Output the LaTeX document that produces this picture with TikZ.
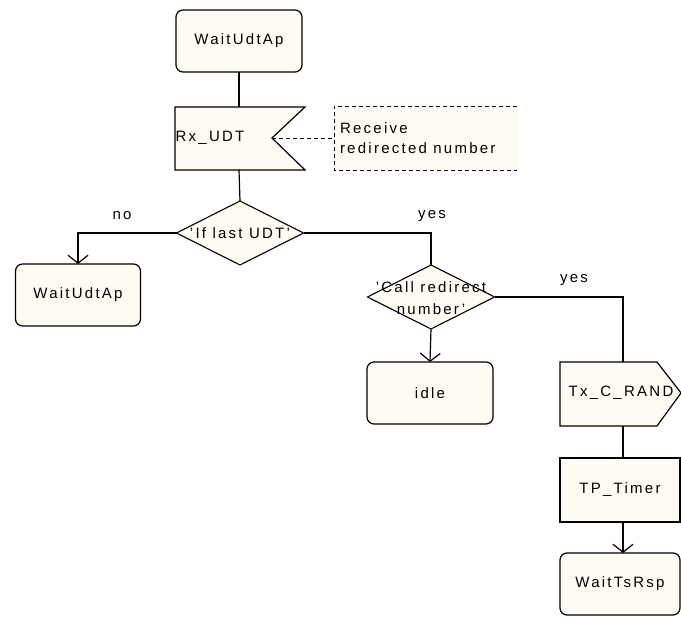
\documentclass[tikz,border=0pt]{standalone}
\usepackage{fontspec}
\setmainfont{Liberation Sans}[LetterSpace=15]
\usetikzlibrary{shapes.geometric,arrows.meta}
\definecolor{sdlfill}{RGB}{255,250,242}
\tikzset{
  every node/.style={font=\fontsize{15}{20}\selectfont, inner sep=0pt, outer sep=0pt},
  statebox/.style={draw, fill=sdlfill, line width=1.2pt, rounded corners=7pt, minimum width=#1, minimum height=62pt},
  statebox/.default=126pt,
  decisionbox/.style={draw, fill=sdlfill, line width=1.1pt, diamond, aspect=2, minimum width=127pt, minimum height=64pt, inner sep=0pt},
  plainbox/.style={draw, fill=sdlfill, line width=1.2pt, minimum width=120pt, minimum height=64pt},
  flow/.style={line width=1.2pt},
  flowarrow/.style={line width=1.2pt, -{Straight Barb[length=8pt,width=20pt]}},
  cmtline/.style={line width=0.9pt, dash pattern=on 4pt off 3pt},
  lbl/.style={font=\fontsize{15}{18}\selectfont},
}
\begin{document}
\begin{tikzpicture}[x=1pt,y=-1pt]
\useasboundingbox (0,0) rectangle (681,618);

% top state
\node[statebox] (s1) at (239,41) {WaitUdtAp};

% input signal Rx_UDT
\coordinate (rxnw) at (175,107);
\coordinate (rxne) at (305,107);
\coordinate (rxn) at (272,138);
\coordinate (rxse) at (305,170);
\coordinate (rxsw) at (175,170);
\filldraw[fill=sdlfill, line width=1.2pt] (rxnw) -- (rxne) -- (rxn) -- (rxse) -- (rxsw) -- cycle;
\node (rx) at (210,138) {Rx\_UDT};
\coordinate (rxtop) at (239,107);
\coordinate (rxbot) at (239,170);

% comment
\coordinate (cmtl) at (334,138);
\fill[sdlfill] (334,106) rectangle (517,170);
\draw[cmtline] (517,106) -- (334,106) -- (334,170) -- (517,170);
\node[anchor=west, align=left, font=\fontsize{15}{20}\selectfont] (cmt) at (340,138) {Receive\\redirected number};
\draw[cmtline] (rxn) -- (cmtl);

% decision 1
\node[decisionbox] (d1) at (240,233) {};
\node (d1t) at (240,233) {'If last UDT'};

% left state
\node[statebox=125pt] (s2) at (78,295) {WaitUdtAp};

% decision 2
\node[decisionbox] (d2) at (431,297) {};
\node[align=center, font=\fontsize{15}{22}\selectfont] (d2t) at (431,298) {'Call redirect\\number'};

% idle
\node[statebox] (idle) at (430,393) {idle};

% output Tx_C_RAND
\coordinate (txnw) at (560,362);
\coordinate (txne) at (657,362);
\coordinate (txe) at (681,393);
\coordinate (txse) at (657,426);
\coordinate (txsw) at (560,426);
\filldraw[fill=sdlfill, line width=1.2pt] (txnw) -- (txne) -- (txe) -- (txse) -- (txsw) -- cycle;
\node (tx) at (621,393) {Tx\_C\_RAND};
\coordinate (txtop) at (623,362);
\coordinate (txbot) at (623,426);

% timer
\node[plainbox] (tp) at (620,490) {TP\_Timer};

% final state
\node[statebox=120pt] (ws) at (620,584) {WaitTsRsp};

% connectors
\draw[flow] (s1.south) -- (rxtop);
\draw[flow] (rxbot) -- (d1.north);
\draw[flowarrow] (d1.west) -| (s2.north);
\draw[flow] (d1.east) -| (d2.north);
\draw[flowarrow] (d2.south) -- (idle.north);
\draw[flow] (d2.east) -| (txtop);
\draw[flow] (txbot) -- (txbot |- tp.north);
\draw[flowarrow] (tp.south -| txbot) -- (txbot |- ws.north);

% labels
\node[lbl] (no) at (122,216) {no};
\node[lbl] (yes1) at (432,216) {yes};
\node[lbl] (yes2) at (574,280) {yes};
\end{tikzpicture}
\end{document}
